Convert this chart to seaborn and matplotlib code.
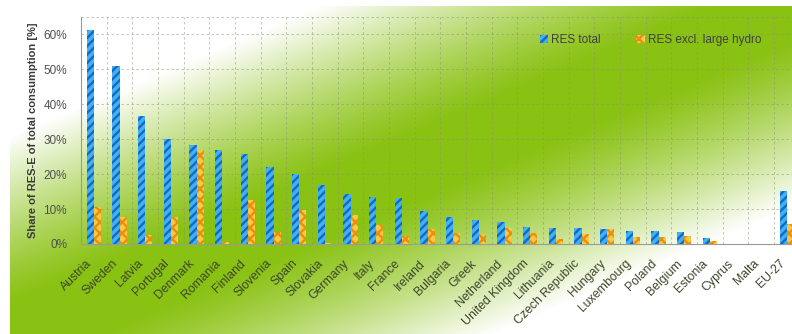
import numpy as np
import pandas as pd
import matplotlib
matplotlib.use("Agg")
import matplotlib.pyplot as plt
from matplotlib.transforms import ScaledTranslation
import seaborn as sns

countries = ["Austria", "Sweden", "Latvia", "Portugal", "Denmark", "Romania",
             "Finland", "Slovenia", "Spain", "Slovakia", "Germany", "Italy",
             "France", "Ireland", "Bulgaria", "Greek", "Netherland",
             "United Kingdom", "Lithuania", "Czech Republic", "Hungary",
             "Luxembourg", "Poland", "Belgium", "Estonia", "Cyprus", "Malta",
             "EU-27"]
res_total = [61.3, 50.9, 36.7, 29.9, 28.3, 26.9, 25.8, 22.1, 20.0, 16.9,
             14.2, 13.3, 13.1, 9.5, 7.7, 7.0, 6.4, 5.0, 4.5, 4.7, 4.3, 3.6,
             3.6, 3.5, 1.6, 0.0, 0.0, 15.2]
res_excl_hydro = [10.7, 7.8, 2.6, 7.8, 27.0, 0.5, 12.6, 3.5, 9.7, 0.3, 8.2,
                  5.5, 2.2, 4.3, 3.1, 3.0, 4.5, 3.2, 1.4, 3.0, 4.2, 2.0, 1.9,
                  2.2, 1.0, 0.0, 0.0, 5.6]
series_names = ["RES total", "RES excl. large hydro"]
y_ticks = [0, 10, 20, 30, 40, 50, 60]

df = pd.DataFrame({
    "country": countries * 2,
    "share": res_total + res_excl_hydro,
    "series": [series_names[0]] * len(countries) + [series_names[1]] * len(countries),
})

sns.set_theme(style="white")
plt.rcParams["font.family"] = ["Liberation Sans", "DejaVu Sans"]
plt.rcParams["hatch.linewidth"] = 1.7

W, H = 792, 334
fig = plt.figure(figsize=(W / 100, H / 100), dpi=100)

# green gradient backdrop: a green diagonal band fading to white in two corners
bg = fig.add_axes([0, 0, 1, 1], zorder=-10)
yy, xx = np.mgrid[0:H, 0:W]
s = xx / W + yy / H
d = np.abs(s - 1.02)
w = np.clip((d - 0.1) / 0.5, 0, 1) ** 1.2
green = np.array([138, 194, 20]) / 255.0
white = np.array([1.0, 1.0, 1.0])
img = green[None, None, :] * (1 - w[..., None]) + white[None, None, :] * w[..., None]
img[:, :10, :] = 1.0
img[:6, :, :] = 1.0
bg.imshow(img, aspect="auto", extent=[0, 1, 0, 1], origin="upper")
bg.set_axis_off()

ax = fig.add_axes([81 / W, 90 / H, 711 / W, 227.3 / H])
ax.patch.set_alpha(0)

blue_face, blue_hatch = "#3cb4f0", "#1e64c8"
orange_face, orange_hatch = "#f8c848", "#e8900c"

sns.barplot(data=df, x="country", y="share", hue="series",
            palette=[blue_face, orange_face], saturation=1, width=0.56,
            ax=ax, legend=False, zorder=3)

for cont, ec, hatch in zip(ax.containers, [blue_hatch, orange_hatch], ["////", "xxx"]):
    for bar in cont:
        bar.set_hatch(hatch)
        bar.set_edgecolor(ec)
        bar.set_linewidth(0)

ax.set_xlim(-0.5, 27.2)
ax.set_ylim(0, 65)
ax.set_yticks(y_ticks)
ax.set_yticklabels([f"{v}%" for v in y_ticks], fontsize=8.5, color="#505050")
ax.set_xticks(np.arange(len(countries)))
ax.set_xticklabels(countries, rotation=45, ha="right", rotation_mode="anchor",
                   fontsize=8.8, color="#3c4628")
ax.tick_params(axis="y", length=0, pad=10)
ax.tick_params(axis="x", length=0, pad=4)
shift = ScaledTranslation(-0.08, -0.08, fig.dpi_scale_trans)
for lab in ax.get_xticklabels():
    lab.set_transform(lab.get_transform() + shift)
ax.set_xlabel("")
ax.set_ylabel("Share of RES-E of total consumption [%]", fontsize=8,
              fontweight="bold", color="#3a3a3a", labelpad=4)

# dashed grid: horizontal at each tick, vertical between categories
for v in y_ticks[1:] + [65]:
    ax.axhline(v, color="#8c9478", lw=0.6, ls=(0, (3, 3)), alpha=0.6, zorder=1)
for b in np.arange(0.5, len(countries), 1.0):
    ax.axvline(b, color="#8c9478", lw=0.6, ls=(0, (3, 3)), alpha=0.6, zorder=1)

for side in ["top", "right"]:
    ax.spines[side].set_visible(False)
ax.spines["left"].set_color("#9a9a9a")
ax.spines["left"].set_linewidth(0.8)
ax.spines["bottom"].set_color("#9a9a9a")
ax.spines["bottom"].set_linewidth(0.8)

leg = ax.legend(handles=list(ax.containers), labels=series_names, ncol=2,
                loc="upper left", bbox_to_anchor=(0.63, 0.97), frameon=False,
                fontsize=8.5, handlelength=0.7, handleheight=0.7,
                handletextpad=0.3, columnspacing=3.0)
for t in leg.get_texts():
    t.set_color("#404040")

fig.savefig("out.png", dpi=100)
